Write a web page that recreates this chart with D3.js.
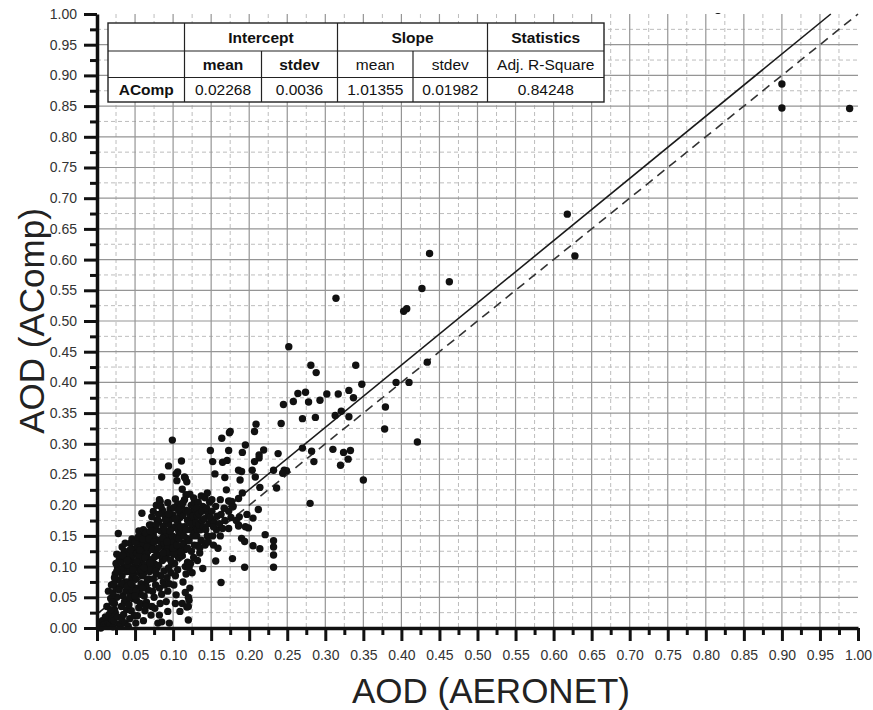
<!DOCTYPE html>
<html>
<head>
<meta charset="utf-8">
<script src="https://cdn.jsdelivr.net/npm/d3@7"></script>
<style>
  body { margin: 0; background: #fff; }
  text { font-family: "Liberation Sans", Arial, sans-serif; }
</style>
</head>
<body>
<svg id="chart" width="873" height="710"></svg>
<script>
// ---- data -------------------------------------------------------------
const majorTicks = [0.00, 0.05, 0.10, 0.15, 0.20, 0.25, 0.30, 0.35, 0.40, 0.45, 0.50,
                    0.55, 0.60, 0.65, 0.70, 0.75, 0.80, 0.85, 0.90, 0.95, 1.00];

// fit summary table
const groupHeaders = [
  { label: "Intercept", from: 1, to: 3 },
  { label: "Slope", from: 3, to: 5 },
  { label: "Statistics", from: 5, to: 6 }
];
const subHeaders = ["mean", "stdev", "mean", "stdev", "Adj. R-Square"];
const subHeaderBold = [true, true, false, false, false];
const rowLabel = "AComp";
const rowValues = ["0.02268", "0.0036", "1.01355", "0.01982", "0.84248"];

const fitIntercept = +rowValues[0];
const fitSlope = +rowValues[2];

// collocated AOD pairs [AERONET, AComp] — low-AOD core
const coreObs = [
[0.002,0.004],[0.004,0.008],[0.006,0.002],[0.007,0.012],[0.009,0.005],[0.005,0.000],
[0.012,0.003],[0.014,0.010],[0.016,0.022],[0.013,0.035],[0.018,0.048],[0.019,0.070],[0.015,0.060],[0.017,0.005],[0.019,0.015],[0.011,0.018],
[0.021,0.002],[0.022,0.012],[0.024,0.025],[0.023,0.040],[0.026,0.050],[0.021,0.057],[0.025,0.065],[0.028,0.078],[0.024,0.088],[0.027,0.098],[0.029,0.110],[0.026,0.120],[0.028,0.154],[0.023,0.030],[0.027,0.018],[0.029,0.006],[0.022,0.072],[0.025,0.105],
[0.031,0.005],[0.033,0.013],[0.035,0.022],[0.032,0.035],[0.036,0.042],[0.034,0.052],[0.038,0.060],[0.031,0.068],[0.037,0.075],[0.033,0.085],[0.039,0.092],[0.035,0.100],[0.032,0.108],[0.038,0.115],[0.036,0.125],[0.039,0.030],[0.034,0.072],[0.037,0.008],[0.031,0.095],[0.039,0.045],[0.033,0.132],
[0.041,0.003],[0.043,0.015],[0.045,0.028],[0.042,0.038],[0.047,0.048],[0.044,0.058],[0.048,0.066],[0.041,0.075],[0.046,0.082],[0.043,0.092],[0.049,0.100],[0.045,0.110],[0.042,0.120],[0.048,0.128],[0.044,0.138],[0.049,0.020],[0.046,0.062],[0.041,0.102],[0.047,0.118],[0.043,0.050],[0.048,0.088],[0.046,0.145],
[0.051,0.008],[0.053,0.020],[0.055,0.033],[0.052,0.045],[0.057,0.055],[0.054,0.065],[0.058,0.072],[0.051,0.080],[0.056,0.090],[0.053,0.098],[0.059,0.105],[0.055,0.113],[0.052,0.122],[0.058,0.130],[0.054,0.140],[0.057,0.150],[0.059,0.187],[0.051,0.060],[0.056,0.118],[0.059,0.085],[0.053,0.135],[0.057,0.040],[0.055,0.158],
[0.061,0.012],[0.063,0.028],[0.065,0.042],[0.062,0.052],[0.067,0.062],[0.064,0.070],[0.068,0.080],[0.061,0.088],[0.066,0.095],[0.063,0.103],[0.069,0.110],[0.065,0.118],[0.062,0.126],[0.068,0.134],[0.064,0.142],[0.067,0.152],[0.061,0.160],[0.069,0.168],[0.066,0.078],[0.063,0.115],[0.069,0.092],[0.061,0.138],[0.067,0.125],[0.064,0.035],
[0.071,0.021],[0.072,0.035],[0.075,0.050],[0.073,0.060],[0.077,0.070],[0.074,0.080],[0.078,0.088],[0.071,0.096],[0.076,0.104],[0.073,0.112],[0.079,0.120],[0.075,0.128],[0.072,0.136],[0.078,0.144],[0.074,0.152],[0.077,0.160],[0.071,0.168],[0.079,0.176],[0.072,0.181],[0.076,0.032],[0.078,0.200],[0.076,0.116],[0.072,0.148],[0.079,0.098],[0.074,0.190],
[0.080,0.008],[0.082,0.021],[0.083,0.040],[0.085,0.055],[0.082,0.065],[0.087,0.075],[0.084,0.085],[0.088,0.093],[0.081,0.102],[0.086,0.110],[0.083,0.118],[0.089,0.126],[0.085,0.134],[0.082,0.142],[0.088,0.150],[0.084,0.158],[0.087,0.166],[0.081,0.174],[0.089,0.070],[0.082,0.209],[0.083,0.206],[0.089,0.184],[0.085,0.010],[0.085,0.246],[0.086,0.192],[0.088,0.138],
[0.095,0.008],[0.093,0.027],[0.091,0.043],[0.093,0.060],[0.095,0.072],[0.092,0.082],[0.097,0.090],[0.094,0.098],[0.098,0.106],[0.091,0.114],[0.096,0.122],[0.093,0.130],[0.099,0.138],[0.095,0.146],[0.092,0.154],[0.098,0.162],[0.094,0.170],[0.097,0.178],[0.093,0.204],[0.100,0.184],[0.094,0.264],[0.099,0.306],[0.096,0.194],[0.091,0.124],[0.099,0.150],
[0.104,0.054],[0.109,0.027],[0.101,0.070],[0.103,0.085],[0.106,0.095],[0.102,0.105],[0.107,0.115],[0.104,0.125],[0.109,0.133],[0.101,0.140],[0.105,0.148],[0.108,0.156],[0.102,0.164],[0.106,0.172],[0.109,0.180],[0.103,0.210],[0.106,0.202],[0.109,0.188],[0.104,0.251],[0.106,0.254],[0.105,0.240],[0.101,0.120],[0.107,0.160],[0.103,0.040],
[0.111,0.272],[0.111,0.198],[0.115,0.246],[0.117,0.217],[0.115,0.209],[0.120,0.013],[0.112,0.040],[0.116,0.058],[0.118,0.034],[0.120,0.050],[0.113,0.075],[0.117,0.088],[0.116,0.100],[0.119,0.107],[0.112,0.118],[0.116,0.128],[0.114,0.138],[0.118,0.146],[0.111,0.155],[0.115,0.165],[0.119,0.175],[0.113,0.183],[0.117,0.192],[0.116,0.244],[0.118,0.238],[0.112,0.226],
[0.121,0.045],[0.122,0.065],[0.125,0.090],[0.123,0.105],[0.127,0.115],[0.124,0.125],[0.128,0.135],[0.121,0.142],[0.126,0.150],[0.123,0.160],[0.129,0.168],[0.125,0.176],[0.122,0.185],[0.128,0.193],[0.124,0.200],[0.127,0.212],[0.122,0.218],[0.129,0.155],[0.121,0.098],[0.120,0.035],
[0.018,0.030],[0.020,0.042],[0.023,0.082],[0.026,0.092],[0.029,0.062],[0.030,0.118],[0.034,0.118],[0.037,0.138],[0.040,0.110],[0.040,0.068],[0.044,0.128],[0.045,0.072],[0.047,0.095],[0.050,0.140],[0.050,0.052],[0.052,0.108],[0.054,0.148],[0.056,0.127],[0.058,0.095],[0.060,0.145],
[0.060,0.065],[0.062,0.098],[0.064,0.155],[0.066,0.132],[0.068,0.145],[0.070,0.158],[0.070,0.106],[0.073,0.128],[0.075,0.140],[0.077,0.092],[0.078,0.168],[0.080,0.130],[0.081,0.185],[0.084,0.198],[0.086,0.146],[0.087,0.122],[0.089,0.160],[0.090,0.176],[0.092,0.140],[0.094,0.186],
[0.096,0.158],[0.097,0.110],[0.100,0.130],[0.101,0.196],[0.103,0.178],[0.105,0.135],[0.107,0.192],[0.108,0.145],[0.110,0.165],[0.110,0.124],[0.113,0.204],[0.114,0.150],[0.117,0.160],[0.119,0.130],[0.120,0.190],[0.123,0.170],[0.126,0.182],[0.128,0.205],[0.130,0.172],[0.132,0.160]
];

// moderate AOD
const midObs = [
[0.139,0.097],[0.132,0.110],[0.135,0.122],[0.133,0.135],[0.137,0.143],[0.131,0.150],[0.136,0.160],[0.134,0.168],[0.138,0.175],[0.132,0.182],[0.136,0.190],[0.139,0.198],[0.133,0.205],[0.137,0.215],[0.131,0.195],[0.135,0.130],[0.134,0.186],[0.138,0.190],[0.140,0.165],
[0.149,0.289],[0.142,0.135],[0.145,0.150],[0.143,0.160],[0.147,0.170],[0.141,0.178],[0.146,0.186],[0.144,0.195],[0.148,0.205],[0.142,0.212],[0.145,0.220],[0.149,0.180],[0.146,0.140],
[0.152,0.271],[0.155,0.251],[0.151,0.209],[0.153,0.135],[0.159,0.130],[0.156,0.109],[0.152,0.150],[0.157,0.160],[0.154,0.172],[0.158,0.182],[0.151,0.190],[0.156,0.198],[0.153,0.165],
[0.162,0.209],[0.163,0.074],[0.164,0.309],[0.165,0.270],[0.168,0.245],[0.162,0.150],[0.165,0.162],[0.168,0.175],[0.163,0.185],[0.167,0.195],[0.161,0.170],
[0.174,0.318],[0.173,0.289],[0.171,0.273],[0.170,0.225],[0.173,0.207],[0.177,0.206],[0.173,0.162],[0.178,0.113],[0.176,0.180],[0.173,0.190],[0.179,0.198],[0.175,0.320],[0.175,0.206],[0.178,0.197],
[0.186,0.211],[0.191,0.220],[0.186,0.168],[0.190,0.146],[0.194,0.141],[0.194,0.099],[0.187,0.181],[0.186,0.166],[0.195,0.165],[0.199,0.163],[0.195,0.298],[0.191,0.286],[0.186,0.257],[0.190,0.255],[0.188,0.241],[0.183,0.175],[0.197,0.185],
[0.205,0.179],[0.205,0.134],[0.214,0.129],[0.221,0.152],[0.232,0.142],[0.232,0.132],[0.232,0.119],[0.232,0.099],[0.212,0.193],[0.209,0.332],[0.207,0.320],[0.219,0.290],[0.213,0.282],[0.213,0.277],[0.207,0.271],[0.204,0.257],[0.208,0.246],[0.214,0.229],[0.236,0.228],[0.232,0.257],[0.238,0.284],[0.242,0.333],[0.245,0.364],[0.246,0.257],[0.249,0.256],[0.244,0.252]
];

// high AOD
const highObs = [
[0.252,0.458],[0.281,0.428],[0.288,0.416],[0.340,0.428],[0.348,0.397],[0.393,0.400],[0.410,0.400],[0.434,0.433],
[0.264,0.382],[0.274,0.384],[0.302,0.381],[0.317,0.381],[0.331,0.387],[0.337,0.375],[0.258,0.369],[0.278,0.368],[0.293,0.371],
[0.313,0.346],[0.321,0.353],[0.331,0.344],[0.379,0.360],[0.378,0.324],[0.421,0.303],[0.270,0.341],[0.287,0.343],
[0.270,0.293],[0.282,0.288],[0.285,0.271],[0.310,0.291],[0.324,0.286],[0.333,0.289],[0.330,0.275],[0.320,0.265],[0.350,0.241],[0.280,0.203],
[0.314,0.537],[0.403,0.516],[0.407,0.520],[0.427,0.553],[0.437,0.610],[0.463,0.564],
[0.618,0.674],[0.628,0.606],[0.900,0.886],[0.900,0.847],[0.989,0.846],[0.816,1.006]
];

// ---- layout -----------------------------------------------------------
const svg = d3.select("#chart");
const x = d3.scaleLinear().domain([0, 1]).range([97, 858]);
const y = d3.scaleLinear().domain([0, 1]).range([628, 14]);
const minorTicks = d3.pairs(majorTicks).map(([a, b]) => (a + b) / 2);
const fmt = d3.format(".2f");

// grid
const grid = svg.append("g");
grid.selectAll(".vmin").data(minorTicks).join("line")
  .attr("x1", d => x(d)).attr("x2", d => x(d)).attr("y1", y(1)).attr("y2", y(0))
  .attr("stroke", "#bdbdbd").attr("stroke-width", 1).attr("stroke-dasharray", "4,3");
grid.selectAll(".hmin").data(minorTicks).join("line")
  .attr("y1", d => y(d)).attr("y2", d => y(d)).attr("x1", x(0)).attr("x2", x(1))
  .attr("stroke", "#bdbdbd").attr("stroke-width", 1).attr("stroke-dasharray", "4,3");
const inner = majorTicks.filter(d => d > 0 && d < 1);
grid.selectAll(".vmaj").data(inner).join("line")
  .attr("x1", d => x(d)).attr("x2", d => x(d)).attr("y1", y(1)).attr("y2", y(0))
  .attr("stroke", "#959595").attr("stroke-width", 1.2);
grid.selectAll(".hmaj").data(inner).join("line")
  .attr("y1", d => y(d)).attr("y2", d => y(d)).attr("x1", x(0)).attr("x2", x(1))
  .attr("stroke", "#959595").attr("stroke-width", 1.2);

// 1:1 reference line and fitted line
const lines = svg.append("g");
lines.append("line")
  .attr("x1", x(0)).attr("y1", y(0)).attr("x2", x(1)).attr("y2", y(1))
  .attr("stroke", "#333").attr("stroke-width", 1.6).attr("stroke-dasharray", "9,6");
const xFitEnd = (1 - fitIntercept) / fitSlope;
lines.append("line")
  .attr("x1", x(0)).attr("y1", y(fitIntercept))
  .attr("x2", x(xFitEnd)).attr("y2", y(fitIntercept + fitSlope * xFitEnd))
  .attr("stroke", "#1a1a1a").attr("stroke-width", 1.6);

// points
svg.append("clipPath").attr("id", "plot-clip")
  .append("rect").attr("x", x(0)).attr("y", y(1) - 1).attr("width", x(1) - x(0) + 8).attr("height", y(0) - y(1) + 8);
svg.append("g").attr("clip-path", "url(#plot-clip)")
  .selectAll("circle").data(coreObs.concat(midObs, highObs)).join("circle")
  .attr("cx", d => x(d[0])).attr("cy", d => y(d[1])).attr("r", 3.7)
  .attr("fill", "#111");

// axes
function styleAxis(g, major) {
  g.select(".domain").attr("stroke", "#111").attr("stroke-width", 3.5);
  g.selectAll(".tick line").attr("stroke", "#111").attr("stroke-width", 3);
  g.selectAll(".tick text").attr("fill", "#333").style("font-size", "14px")
    .style("font-family", '"Liberation Sans", Arial, sans-serif');
  if (!major) g.select(".domain").remove();
}
svg.append("g").attr("transform", `translate(0,${y(0)})`)
  .call(d3.axisBottom(x).tickValues(minorTicks).tickSize(7).tickSizeOuter(0).tickFormat(""))
  .call(g => styleAxis(g, false));
svg.append("g").attr("transform", `translate(${x(0)},0)`)
  .call(d3.axisLeft(y).tickValues(minorTicks).tickSize(7).tickSizeOuter(0).tickFormat(""))
  .call(g => styleAxis(g, false));
svg.append("g").attr("transform", `translate(0,${y(0)})`)
  .call(d3.axisBottom(x).tickValues(majorTicks).tickSize(13).tickSizeOuter(0).tickPadding(9).tickFormat(fmt))
  .call(g => styleAxis(g, true));
svg.append("g").attr("transform", `translate(${x(0)},0)`)
  .call(d3.axisLeft(y).tickValues(majorTicks).tickSize(13).tickSizeOuter(0).tickPadding(7).tickFormat(fmt))
  .call(g => styleAxis(g, true));

// axis titles
svg.append("text").attr("x", 491).attr("y", 703).attr("text-anchor", "middle")
  .attr("fill", "#222").style("font-size", "35px").text("AOD (AERONET)");
svg.append("text").attr("transform", `translate(44,${(y(0) + y(1)) / 2}) rotate(-90)`)
  .attr("text-anchor", "middle").attr("fill", "#222").style("font-size", "35px").text("AOD (AComp)");

// summary table
const colX = [108, 184.5, 261.5, 337.5, 413, 487.5, 604];
const rowY = [23, 51, 77.5, 102];
const tbl = svg.append("g");
tbl.append("rect").attr("x", colX[0]).attr("y", rowY[0])
  .attr("width", colX[6] - colX[0]).attr("height", rowY[3] - rowY[0])
  .attr("fill", "#fff").attr("stroke", "#222").attr("stroke-width", 1.4);
[rowY[1], rowY[2]].forEach(ry => tbl.append("line")
  .attr("x1", colX[0]).attr("x2", colX[6]).attr("y1", ry).attr("y2", ry)
  .attr("stroke", "#222").attr("stroke-width", 1.2));
colX.slice(1, 6).forEach((cx, i) => {
  const full = [0, 2, 4].includes(i);
  tbl.append("line").attr("x1", cx).attr("x2", cx)
    .attr("y1", full ? rowY[0] : rowY[1]).attr("y2", rowY[3])
    .attr("stroke", "#222").attr("stroke-width", 1.2);
});
const cellText = (cx, cy, label, bold) => tbl.append("text")
  .attr("x", cx).attr("y", cy).attr("text-anchor", "middle").attr("dy", "0.36em")
  .attr("fill", "#111").style("font-size", "15.5px").style("font-weight", bold ? "bold" : "normal")
  .text(label);
groupHeaders.forEach(g => cellText((colX[g.from] + colX[g.to]) / 2, (rowY[0] + rowY[1]) / 2, g.label, true));
subHeaders.forEach((s, i) => cellText((colX[i + 1] + colX[i + 2]) / 2, (rowY[1] + rowY[2]) / 2, s, subHeaderBold[i]));
cellText((colX[0] + colX[1]) / 2, (rowY[2] + rowY[3]) / 2, rowLabel, true);
rowValues.forEach((v, i) => cellText((colX[i + 1] + colX[i + 2]) / 2, (rowY[2] + rowY[3]) / 2, v, false));
</script>
</body>
</html>
